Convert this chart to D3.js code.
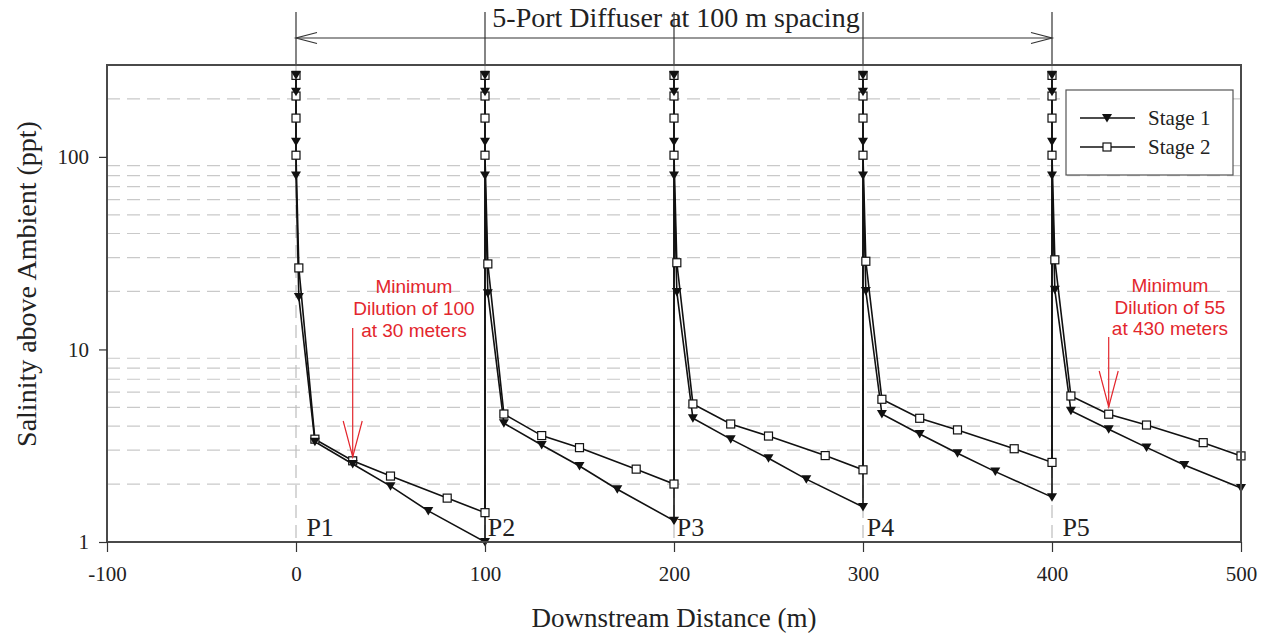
<!DOCTYPE html>
<html>
<head>
<meta charset="utf-8">
<script src="https://cdn.jsdelivr.net/npm/d3@7"></script>
<style>
  body { margin: 0; background: #fff; }
  svg { display: block; }
</style>
</head>
<body>
<svg id="chart" width="1264" height="635"></svg>
<script>
// ---------------- data ----------------
const xTicks = [-100, 0, 100, 200, 300, 400, 500];
const yTicks = [1, 10, 100];
const gridValues = [2, 3, 4, 5, 6, 7, 8, 9, 20, 30, 40, 50, 60, 70, 80, 90, 200];
const ports = [0, 100, 200, 300, 400];
const portLabels = ["P1", "P2", "P3", "P4", "P5"];
const portLabelX = [5.5, 1.5, 1.5, 2, 5.5];

const stage1X = [
  0, 0, 0, 0, 1.5, 10, 30, 50, 70, 100,
  100, 100, 100, 100, 101.5, 110, 130, 150, 170, 200,
  200, 200, 200, 200, 201.5, 210, 230, 250, 270, 300,
  300, 300, 300, 300, 301.5, 310, 330, 350, 370, 400,
  400, 400, 400, 400, 401.5, 410, 430, 450, 470, 500
];
const stage1Y = [
  265, 218, 120, 80, 18.7, 3.32, 2.54, 1.95, 1.45, 1.0,
  265, 218, 120, 80, 19.6, 4.14, 3.19, 2.48, 1.88, 1.29,
  265, 218, 120, 80, 19.9, 4.39, 3.42, 2.72, 2.12, 1.52,
  265, 218, 120, 80, 20.1, 4.62, 3.64, 2.89, 2.32, 1.71,
  265, 218, 120, 80, 20.4, 4.81, 3.85, 3.10, 2.51, 1.91
];
const stage2X = [
  0, 0, 0, 0, 1.5, 10, 30, 50, 80, 100,
  100, 100, 100, 100, 101.5, 110, 130, 150, 180, 200,
  200, 200, 200, 200, 201.5, 210, 230, 250, 280, 300,
  300, 300, 300, 300, 301.5, 310, 330, 350, 380, 400,
  400, 400, 400, 400, 401.5, 410, 430, 450, 480, 500
];
const stage2Y = [
  265, 207, 159, 102, 26.5, 3.42, 2.64, 2.20, 1.69, 1.42,
  265, 207, 159, 102, 27.8, 4.62, 3.57, 3.09, 2.39, 2.00,
  265, 207, 159, 102, 28.2, 5.21, 4.10, 3.55, 2.81, 2.37,
  265, 207, 159, 102, 28.7, 5.51, 4.39, 3.82, 3.05, 2.59,
  265, 207, 159, 102, 29.2, 5.73, 4.61, 4.05, 3.28, 2.80
];

const noteLines = [
  ["Minimum", "Dilution of 100", "at 30 meters"],
  ["Minimum", "Dilution of 55", "at 430 meters"]
];
const noteArrowX = [30, 430];
const noteTextX = [62.4, 462.4];

// ---------------- layout ----------------
const svg = d3.select("#chart");
const L = 107, R = 1241, T = 65, B = 542;
const serif = "'Liberation Serif', 'Times New Roman', serif";
const sans = "'Liberation Sans', Arial, sans-serif";
const red = "#e3262d";
const ink = "#222";

const x = d3.scaleLinear().domain([-100, 500]).range([L, R]);
const y = d3.scaleLog().domain([1, 300]).range([B, T]);

// gridlines
svg.append("g").selectAll("line").data(gridValues).join("line")
  .attr("x1", L).attr("x2", R)
  .attr("y1", d => y(d)).attr("y2", d => y(d))
  .attr("stroke", "#c9c9c9").attr("stroke-width", 1.2)
  .attr("stroke-dasharray", "13,7");

// vertical dashed port lines inside plot
svg.append("g").selectAll("line").data(ports).join("line")
  .attr("x1", d => x(d)).attr("x2", d => x(d))
  .attr("y1", T).attr("y2", B)
  .attr("stroke", "#bdbdbd").attr("stroke-width", 1.2)
  .attr("stroke-dasharray", "13,7");

// vertical port lines above plot
svg.append("g").selectAll("line").data(ports).join("line")
  .attr("x1", d => x(d)).attr("x2", d => x(d))
  .attr("y1", 12).attr("y2", T)
  .attr("stroke", "#333").attr("stroke-width", 1.2);

// top double arrow
const ay = 38;
const xa = x(ports[0]), xb = x(ports[ports.length - 1]);
const topArrow = svg.append("g").attr("stroke", "#333").attr("stroke-width", 1.2).attr("fill", "none");
topArrow.append("line").attr("x1", xa).attr("x2", xb).attr("y1", ay).attr("y2", ay);
topArrow.append("path").attr("d", `M${xa + 21},${ay - 5.5} L${xa},${ay} L${xa + 21},${ay + 5.5}`);
topArrow.append("path").attr("d", `M${xb - 21},${ay - 5.5} L${xb},${ay} L${xb - 21},${ay + 5.5}`);
svg.append("text").attr("x", 676).attr("y", 27)
  .attr("text-anchor", "middle").attr("font-family", serif).attr("font-size", 28)
  .attr("fill", ink).text("5-Port Diffuser at 100 m spacing");

// data series
const s1 = stage1X.map((v, i) => [v, stage1Y[i]]);
const s2 = stage2X.map((v, i) => [v, stage2Y[i]]);
const line = d3.line().x(d => x(d[0])).y(d => y(d[1]));

svg.append("path").datum(s2).attr("d", line)
  .attr("fill", "none").attr("stroke", "#111").attr("stroke-width", 1.6);
svg.append("path").datum(s1).attr("d", line)
  .attr("fill", "none").attr("stroke", "#111").attr("stroke-width", 1.6);

const tri = "M-5,-4 L5,-4 L0,4.5 Z";
function square(g) {
  g.append("rect").attr("x", -4).attr("y", -4).attr("width", 8).attr("height", 8)
    .attr("fill", "#fff").attr("stroke", "#111").attr("stroke-width", 1.2);
}
svg.append("g").selectAll("g").data(s2).join("g")
  .attr("transform", d => `translate(${x(d[0])},${y(d[1])})`)
  .call(square);
svg.append("g").selectAll("path").data(s1).join("path")
  .attr("transform", d => `translate(${x(d[0])},${y(d[1])})`)
  .attr("d", tri).attr("fill", "#111");

// port labels
svg.append("g").selectAll("text").data(portLabels).join("text")
  .attr("x", (d, i) => x(ports[i] + portLabelX[i]))
  .attr("y", 536)
  .attr("font-family", serif).attr("font-size", 26).attr("fill", ink)
  .text(d => d);

// frame
svg.append("rect").attr("x", L).attr("y", T).attr("width", R - L).attr("height", B - T)
  .attr("fill", "none").attr("stroke", "#4a4a4a").attr("stroke-width", 2);

// axes
const xAxis = d3.axisBottom(x).tickValues(xTicks).tickSize(10).tickPadding(14)
  .tickFormat(d => String(d));
const gx = svg.append("g").attr("transform", `translate(0,${B})`).call(xAxis);
gx.select(".domain").remove();
gx.selectAll("line").attr("stroke", "#333").attr("stroke-width", 1.2);
gx.selectAll("text").attr("font-family", serif).attr("font-size", 21).attr("fill", ink);

const yAxis = d3.axisLeft(y).tickValues(yTicks).tickSize(8).tickPadding(10)
  .tickFormat(d => String(d));
const gy = svg.append("g").attr("transform", `translate(${L},0)`).call(yAxis);
gy.select(".domain").remove();
gy.selectAll("line").attr("stroke", "#333").attr("stroke-width", 1.2);
gy.selectAll("text").attr("font-family", serif).attr("font-size", 21).attr("fill", ink);

// axis titles
svg.append("text").attr("x", 674).attr("y", 627).attr("text-anchor", "middle")
  .attr("font-family", serif).attr("font-size", 27).attr("fill", ink)
  .text("Downstream Distance (m)");
svg.append("text").attr("transform", "translate(36,284) rotate(-90)")
  .attr("text-anchor", "middle")
  .attr("font-family", serif).attr("font-size", 28).attr("fill", ink)
  .text("Salinity above Ambient (ppt)");

// legend
const lg = svg.append("g");
lg.append("rect").attr("x", 1066).attr("y", 90).attr("width", 167).attr("height", 85)
  .attr("fill", "#fff").attr("stroke", "#555").attr("stroke-width", 1.2);
const legendItems = [{ name: "Stage 1", y: 118, mark: "tri" }, { name: "Stage 2", y: 147, mark: "sq" }];
legendItems.forEach(it => {
  lg.append("line").attr("x1", 1080).attr("x2", 1135).attr("y1", it.y).attr("y2", it.y)
    .attr("stroke", "#111").attr("stroke-width", 1.6);
  const m = lg.append("g").attr("transform", `translate(1107,${it.y})`);
  if (it.mark === "tri") m.append("path").attr("d", tri).attr("fill", "#111");
  else square(m);
  lg.append("text").attr("x", 1148).attr("y", it.y + 7)
    .attr("font-family", serif).attr("font-size", 21).attr("fill", ink).text(it.name);
});

// annotations
const noteBase = [[293, 315, 337], [291.5, 314, 335]];
const arrowTop = [328, 337];
const arrowTip = [457, 407];
noteLines.forEach((lines, k) => {
  const g = svg.append("g");
  lines.forEach((t, j) => {
    g.append("text").attr("x", x(noteTextX[k])).attr("y", noteBase[k][j])
      .attr("text-anchor", "middle").attr("font-family", sans).attr("font-size", 19)
      .attr("fill", red).text(t);
  });
  const ax = x(noteArrowX[k]);
  g.append("line").attr("x1", ax).attr("x2", ax).attr("y1", arrowTop[k]).attr("y2", arrowTip[k])
    .attr("stroke", red).attr("stroke-width", 1.2);
  g.append("path")
    .attr("d", `M${ax - 9.5},${arrowTip[k] - 36} L${ax},${arrowTip[k]} L${ax + 9.5},${arrowTip[k] - 36}`)
    .attr("fill", "none").attr("stroke", red).attr("stroke-width", 1.2);
});
</script>
</body>
</html>
